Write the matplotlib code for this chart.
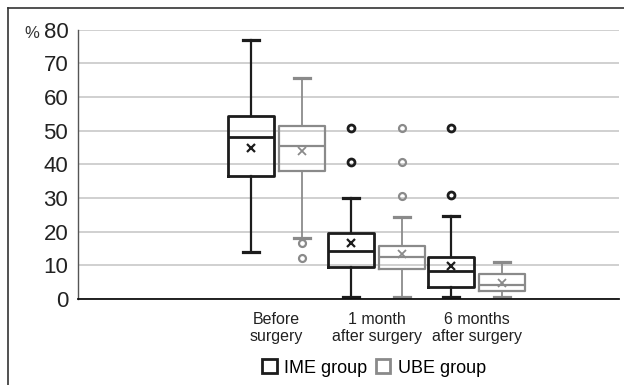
import matplotlib.pyplot as plt
from matplotlib.lines import Line2D
from matplotlib.patches import Patch

plt.rcParams['font.family'] = ['Liberation Sans', 'DejaVu Sans']

# time points and box statistics (%), one list per group
categories = ['Before\nsurgery', '1 month\nafter surgery', '6 months\nafter surgery']
groups = ['IME group', 'UBE group']

ime_whislo = [14.1, 0.6, 0.6]
ime_q1 = [36.6, 9.4, 3.7]
ime_med = [48.0, 14.4, 8.4]
ime_q3 = [54.3, 19.6, 12.4]
ime_whishi = [77.0, 30.1, 24.6]
ime_mean = [44.9, 16.6, 9.8]
ime_fliers = [[], [40.7, 50.8], [30.8, 50.8]]

ube_whislo = [18.2, 0.6, 0.6]
ube_q1 = [38.1, 9.0, 2.3]
ube_med = [45.4, 12.4, 4.2]
ube_q3 = [51.4, 15.7, 7.5]
ube_whishi = [65.8, 24.4, 11.1]
ube_mean = [44.1, 13.5, 4.7]
ube_fliers = [[12.3, 16.5], [30.6, 40.7, 50.8], []]

yticks = [0, 10, 20, 30, 40, 50, 60, 70, 80]

black = '#1c1c1c'
grey = '#8a8a8a'


def make_stats(lo, q1, med, q3, hi, mean, fliers):
    stats = []
    for i in range(len(lo)):
        stats.append(dict(whislo=lo[i], q1=q1[i], med=med[i], q3=q3[i],
                          whishi=hi[i], mean=mean[i], fliers=fliers[i]))
    return stats


def draw_boxes(ax, stats, positions, color, lw):
    ax.bxp(stats, positions=positions, widths=0.46, showmeans=True,
           patch_artist=False, capwidths=0.16,
           boxprops=dict(color=color, linewidth=lw),
           medianprops=dict(color=color, linewidth=lw),
           whiskerprops=dict(color=color, linewidth=lw * 0.8),
           capprops=dict(color=color, linewidth=2.3),
           meanprops=dict(marker='x', markeredgecolor=color, markersize=6,
                          markeredgewidth=lw * 0.8),
           flierprops=dict(marker='o', markerfacecolor='none',
                           markeredgecolor=color, markersize=5,
                           markeredgewidth=lw))


fig = plt.figure(figsize=(6.24, 3.85), dpi=100)
ax = fig.add_axes([78 / 624, 1 - 299 / 385, 541 / 624, 269.3 / 385])

x = list(range(len(categories)))
ime_stats = make_stats(ime_whislo, ime_q1, ime_med, ime_q3, ime_whishi, ime_mean, ime_fliers)
ube_stats = make_stats(ube_whislo, ube_q1, ube_med, ube_q3, ube_whishi, ube_mean, ube_fliers)
draw_boxes(ax, ime_stats, [i - 0.255 for i in x], black, 2.0)
draw_boxes(ax, ube_stats, [i + 0.25 for i in x], grey, 1.6)

ax.set_ylim(0, 80)
ax.set_xlim(-1.985, 3.425)
ax.set_yticks(yticks)
ax.set_yticklabels([str(t) for t in yticks], fontsize=16, color='#222222')
ax.tick_params(axis='y', length=0, pad=7)
ax.set_xticks(x)
ax.set_xticklabels(categories, fontsize=11.5, color='#222222', linespacing=1.2)
ax.tick_params(axis='x', length=0, pad=9)
ax.yaxis.grid(True, color='#c8c8c8', linewidth=1.2)
ax.set_axisbelow(True)
for side in ['top', 'right']:
    ax.spines[side].set_visible(False)
ax.spines['left'].set_color('#555555')
ax.spines['left'].set_linewidth(1.0)
ax.spines['bottom'].set_color('#111111')
ax.spines['bottom'].set_linewidth(1.3)

fig.text(24 / 624, 1 - 33 / 385, '%', fontsize=12, color='#333333', va='center')

# outer frame, open on the right and bottom
fig.add_artist(Line2D([8 / 624, 1.0], [1 - 8 / 385, 1 - 8 / 385],
                      transform=fig.transFigure, color='#333333', linewidth=1.2))
fig.add_artist(Line2D([8 / 624, 8 / 624], [0.0, 1 - 8 / 385],
                      transform=fig.transFigure, color='#333333', linewidth=1.2))

handles = [Patch(facecolor='white', edgecolor=black, linewidth=2.0),
           Patch(facecolor='white', edgecolor=grey, linewidth=2.0)]
fig.legend(handles, groups, loc='center', bbox_to_anchor=(374 / 624, 1 - 368 / 385),
           ncol=2, frameon=False, fontsize=13, handlelength=0.8, handleheight=0.8,
           handletextpad=0.4, columnspacing=0.5, borderpad=0)

fig.savefig('out.png', dpi=100)
